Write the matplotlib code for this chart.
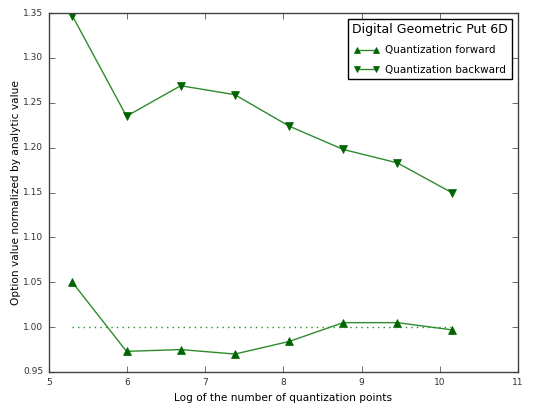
import numpy as np
import matplotlib
matplotlib.use("Agg")
import matplotlib.pyplot as plt

points = [200, 400, 800, 1600, 3200, 6400, 12800, 25600]
forward = [1.050, 0.973, 0.975, 0.970, 0.984, 1.005, 1.005, 0.997]
backward = [1.347, 1.235, 1.269, 1.259, 1.224, 1.198, 1.183, 1.150]
reference = 1.0

plt.style.use('classic')
x = np.log(points)

fig = plt.figure(figsize=(5.35, 4.07), dpi=100, facecolor='white')
ax = fig.add_axes([0.0916, 0.086, 0.8766, 0.882])

ax.plot(x, forward, color='#2e8b2e', marker='^', markersize=5.5,
        markerfacecolor='darkgreen', markeredgecolor='darkgreen',
        linewidth=1, label='Quantization forward')
ax.plot(x, backward, color='#2e8b2e', marker='v', markersize=5.5,
        markerfacecolor='darkgreen', markeredgecolor='darkgreen',
        linewidth=1, label='Quantization backward')
ax.plot([x[0], x[-1]], [reference, reference], color='#2e8b2e',
        linestyle=':', linewidth=1)

ax.set_xlim(5, 11)
ax.set_ylim(0.95, 1.35)
ax.set_xticks(range(5, 12))
ax.set_yticks(np.arange(0.95, 1.351, 0.05))
ax.set_yticklabels(['%.2f' % v for v in np.arange(0.95, 1.351, 0.05)])
ax.tick_params(labelsize=6.5, colors='#333333')
for s in ax.spines.values():
    s.set_color('#444444')

ax.set_xlabel('Log of the number of quantization points', fontsize=7.6)
ax.set_ylabel('Option value normalized by analytic value', fontsize=7.6,
              labelpad=2)

leg = ax.legend(loc='upper right', title='Digital Geometric Put 6D',
                fontsize=7.5, numpoints=2, handlelength=2.4, markerscale=0.75,
                borderaxespad=0.55, labelspacing=0.9, borderpad=0.4,
                handletextpad=0.6)
leg.get_title().set_fontsize(9)
leg.get_frame().set_linewidth(1)

fig.savefig('out.png', dpi=100, facecolor='white')
